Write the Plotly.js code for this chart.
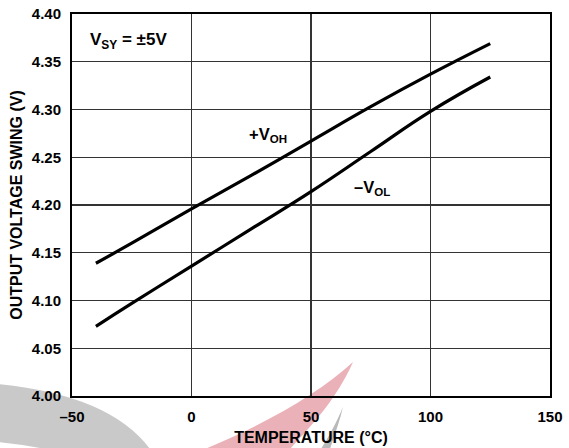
<!DOCTYPE html>
<html>
<head>
<meta charset="utf-8">
<script src="https://cdn.plot.ly/plotly-3.0.1.min.js"></script>
<style>
  html, body { margin: 0; padding: 0; background: #fff; }
  #chart { width: 569px; height: 448px; }
</style>
</head>
<body>
<div id="chart"></div>
<script>
// ---- data ----
const temperature = [-40, -25, 0, 25, 50, 75, 100, 125];
const vohPlus  = [4.139, 4.160, 4.196, 4.231, 4.267, 4.303, 4.337, 4.369];
const volMinus = [4.073, 4.097, 4.136, 4.175, 4.214, 4.256, 4.298, 4.334];
const xTickVals = [-50, 0, 50, 100, 150];
const xTickText = ['\u201350', '0', '50', '100', '150'];
const yTickVals = [4.00, 4.05, 4.10, 4.15, 4.20, 4.25, 4.30, 4.35, 4.40];

// ---- layout geometry ----
const W = 569, H = 448;
const M = { l: 72, r: 19, t: 14, b: 52 };
const PW = W - M.l - M.r, PH = H - M.t - M.b;
const FONT = 'Liberation Sans, Arial, Helvetica, sans-serif';

// pixel -> paper helpers for the faint background watermark
const X = px => ((px - M.l) / PW).toFixed(4);
const Y = py => ((H - M.b - py) / PH).toFixed(4);
const P = (x, y) => X(x) + ',' + Y(y);

const watermark = [
  { path: `M${P(-2,384)} Q${P(110,395)} ${P(150,449)} L${P(45,449)} Q${P(20,444)} ${P(-2,442)} Z`, color: '#c9c9c9' },
  { path: `M${P(353,362)} C${P(320,392)} ${P(270,422)} ${P(205,449)} L${P(290,449)} C${P(312,425)} ${P(336,400)} ${P(353,362)} Z`, color: '#eab2b8' },
  { path: `M${P(343,407)} C${P(336,424)} ${P(328,438)} ${P(321,449)} L${P(330,449)} C${P(335,434)} ${P(340,420)} ${P(343,407)} Z`, color: '#b9b9b9' }
].map(s => ({
  type: 'path', xref: 'paper', yref: 'paper', layer: 'below',
  path: s.path, fillcolor: s.color, line: { width: 0 }
}));

const traces = [
  { x: temperature, y: vohPlus, name: '+VOH', mode: 'lines',
    line: { color: '#000', width: 3.2, shape: 'spline', smoothing: 1.3 }, hoverinfo: 'skip' },
  { x: temperature, y: volMinus, name: '-VOL', mode: 'lines',
    line: { color: '#000', width: 3.2, shape: 'spline', smoothing: 1.3 }, hoverinfo: 'skip' }
];

const axisCommon = {
  showline: true, mirror: true, linecolor: '#000', linewidth: 2,
  showgrid: true, gridcolor: '#333', gridwidth: 1.3, zeroline: false,
  ticks: 'outside', ticklen: 6, tickcolor: 'rgba(0,0,0,0)',
  tickfont: { family: FONT, size: 15, color: '#000', weight: 'bold' },
  fixedrange: true
};

const layout = {
  width: W, height: H,
  margin: M,
  paper_bgcolor: '#fff',
  plot_bgcolor: 'rgba(0,0,0,0)',
  showlegend: false,
  font: { family: FONT, color: '#000', size: 15, weight: 'bold' },
  xaxis: Object.assign({}, axisCommon, {
    range: [-50, 150], tickmode: 'array', tickvals: xTickVals, ticktext: xTickText,
    title: { text: 'TEMPERATURE (°C)', font: { family: FONT, size: 16, weight: 'bold', color: '#000' }, standoff: 8 }
  }),
  yaxis: Object.assign({}, axisCommon, {
    range: [4.0, 4.4], tickmode: 'array', tickvals: yTickVals, tickformat: '.2f',
    title: { text: 'OUTPUT VOLTAGE SWING (V)', font: { family: FONT, size: 16, weight: 'bold', color: '#000' }, standoff: 5 }
  }),
  shapes: watermark,
  annotations: [
    { x: -43.5, y: 4.372, xref: 'x', yref: 'y', xanchor: 'left', yanchor: 'middle',
      text: 'V<sub>SY</sub> = ±5V', showarrow: false,
      font: { family: FONT, size: 17, weight: 'bold', color: '#000' } },
    { x: 32, y: 4.273, xref: 'x', yref: 'y', xanchor: 'center', yanchor: 'middle',
      text: '+V<sub>OH</sub>', showarrow: false,
      font: { family: FONT, size: 16.5, weight: 'bold', color: '#000' } },
    { x: 75.5, y: 4.218, xref: 'x', yref: 'y', xanchor: 'center', yanchor: 'middle',
      text: '\u2013V<sub>OL</sub>', showarrow: false,
      font: { family: FONT, size: 16.5, weight: 'bold', color: '#000' } }
  ]
};

Plotly.newPlot('chart', traces, layout, { staticPlot: true, displayModeBar: false });
</script>
</body>
</html>
